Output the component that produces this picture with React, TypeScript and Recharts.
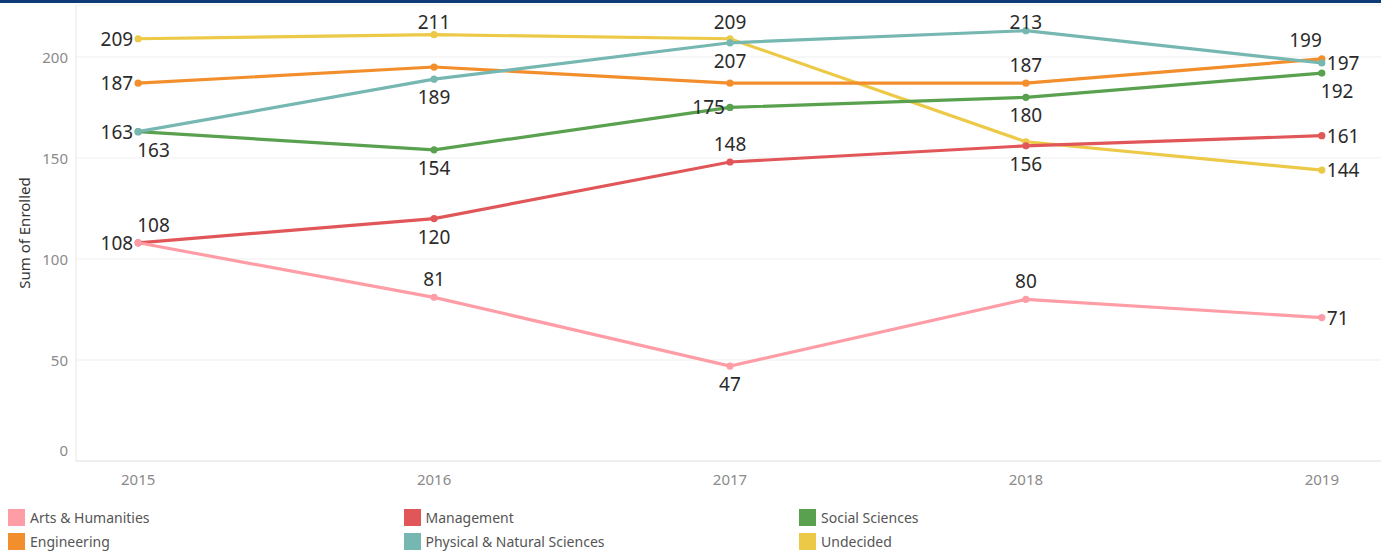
import React from "react";
import {
  CartesianGrid,
  LabelList,
  Line,
  LineChart,
  XAxis,
  YAxis,
} from "recharts";

const years = [2015, 2016, 2017, 2018, 2019];

const artsHumanities = [108, 81, 47, 80, 71];
const management = [108, 120, 148, 156, 161];
const socialSciences = [163, 154, 175, 180, 192];
const engineering = [187, 195, 187, 187, 199];
const physicalNatural = [163, 189, 207, 213, 197];
const undecided = [209, 211, 209, 158, 144];

const yTicks = [0, 50, 100, 150, 200];

const FONT = "'Noto Sans', sans-serif";

type Placement =
  | "left"
  | "right"
  | "above"
  | "below"
  | "aboveRight"
  | "aboveLeft"
  | "belowRight"
  | "none";

interface Series {
  name: string;
  values: number[];
  color: string;
  labels: Placement[];
}

const series: Series[] = [
  {
    name: "Arts & Humanities",
    values: artsHumanities,
    color: "#ff9da7",
    labels: ["left", "above", "below", "above", "right"],
  },
  {
    name: "Engineering",
    values: engineering,
    color: "#f28e2b",
    labels: ["left", "none", "none", "above", "aboveLeft"],
  },
  {
    name: "Management",
    values: management,
    color: "#e15759",
    labels: ["aboveRight", "below", "above", "below", "right"],
  },
  {
    name: "Physical & Natural Sciences",
    values: physicalNatural,
    color: "#76b7b2",
    labels: ["left", "below", "below", "above", "right"],
  },
  {
    name: "Social Sciences",
    values: socialSciences,
    color: "#59a14f",
    labels: ["belowRight", "below", "left", "below", "belowRight"],
  },
  {
    name: "Undecided",
    values: undecided,
    color: "#edc948",
    labels: ["left", "above", "above", "none", "right"],
  },
];

// drawing order (later = on top)
const drawOrder = [
  "Undecided",
  "Engineering",
  "Social Sciences",
  "Physical & Natural Sciences",
  "Management",
  "Arts & Humanities",
];

const data = years.map((year, i) => {
  const row: Record<string, number> = { year };
  series.forEach((s) => {
    row[s.name] = s.values[i];
  });
  return row;
});

function makeLabel(placements: Placement[]) {
  return (props: any) => {
    const { x, y, value, index } = props;
    const p = placements[index];
    if (!p || p === "none" || x == null || y == null) return null;
    let tx = x;
    let ty = y;
    let anchor: "start" | "middle" | "end" = "middle";
    switch (p) {
      case "left":
        tx = x - 5;
        anchor = "end";
        break;
      case "right":
        tx = x + 5;
        anchor = "start";
        break;
      case "above":
        ty = Math.max(y - 18, 21.5);
        break;
      case "below":
        ty = y + 18;
        break;
      case "aboveRight":
        tx = x - 1;
        ty = y - 18;
        anchor = "start";
        break;
      case "aboveLeft":
        tx = x;
        ty = y - 19;
        anchor = "end";
        break;
      case "belowRight":
        tx = x - 1;
        ty = y + 18;
        anchor = "start";
        break;
    }
    return (
      <text
        x={tx}
        y={ty}
        textAnchor={anchor}
        dominantBaseline="central"
        fontSize={19}
        fontFamily={FONT}
        fill="#2b2b2b"
      >
        {value}
      </text>
    );
  };
}

const YTick = (props: any) => {
  const { x, y, payload } = props;
  const dy = payload.value === 0 ? -11 : 0;
  return (
    <text
      x={x}
      y={y + dy}
      textAnchor="end"
      dominantBaseline="central"
      fill="#8a8a8a"
      fontSize={15}
      fontFamily={FONT}
    >
      {payload.value}
    </text>
  );
};

export default function App() {
  const ordered = drawOrder.map((n) => series.find((s) => s.name === n)!);
  const legendCols = [
    [series[0], series[1]],
    [series[2], series[3]],
    [series[4], series[5]],
  ];

  return (
    <div
      style={{
        position: "absolute",
        left: 0,
        top: 0,
        width: 1381,
        height: 554,
        background: "#fff",
        fontFamily: FONT,
        overflow: "hidden",
      }}
    >
      <LineChart
        width={1381}
        height={495}
        data={data}
        margin={{ top: 5, right: 0, bottom: 0, left: 0 }}
      >
        <CartesianGrid vertical={false} stroke="#efefef" />
        <XAxis
          dataKey="year"
          type="number"
          domain={[2014.79, 2019.2]}
          ticks={years}
          height={34}
          tickLine={false}
          tickSize={0}
          tickMargin={13}
          axisLine={{ stroke: "#e6e6e6" }}
          tick={{ fill: "#8a8a8a", fontSize: 15, fontFamily: FONT }}
        />
        <YAxis
          type="number"
          domain={[0, 225.7]}
          ticks={yTicks}
          width={76}
          tickLine={false}
          tickSize={0}
          tickMargin={8}
          axisLine={{ stroke: "#e6e6e6" }}
          tick={<YTick />}
        />
        {ordered.map((s) => (
          <Line
            key={s.name}
            type="linear"
            dataKey={s.name}
            stroke={s.color}
            strokeWidth={3.2}
            dot={{ r: 3.6, fill: s.color, stroke: "none" }}
            activeDot={false}
            isAnimationActive={false}
          />
        ))}
        {ordered.map((s) => (
          <Line
            key={s.name + "-labels"}
            type="linear"
            dataKey={s.name}
            stroke="none"
            dot={false}
            activeDot={false}
            legendType="none"
            isAnimationActive={false}
          >
            <LabelList dataKey={s.name} content={makeLabel(s.labels)} />
          </Line>
        ))}
      </LineChart>

      {/* top border */}
      <div
        style={{
          position: "absolute",
          left: 0,
          top: 0,
          width: 1381,
          height: 3,
          background: "#0e3b78",
        }}
      />

      {/* y axis title */}
      <div
        style={{
          position: "absolute",
          left: 24,
          top: 233,
          transform: "translate(-50%, -50%) rotate(-90deg)",
          whiteSpace: "nowrap",
          fontSize: 15,
          color: "#333",
        }}
      >
        Sum of Enrolled
      </div>

      {/* legend */}
      {legendCols.map((col, ci) =>
        col.map((s, ri) => (
          <div
            key={s.name}
            style={{
              position: "absolute",
              left: 8 + ci * 395.5,
              top: 509 + ri * 23.5,
              height: 17,
              display: "flex",
              alignItems: "center",
              whiteSpace: "nowrap",
            }}
          >
            <div
              style={{ width: 17, height: 17, background: s.color, marginRight: 5 }}
            />
            <span style={{ fontSize: 14, color: "#555" }}>{s.name}</span>
          </div>
        ))
      )}
    </div>
  );
}
